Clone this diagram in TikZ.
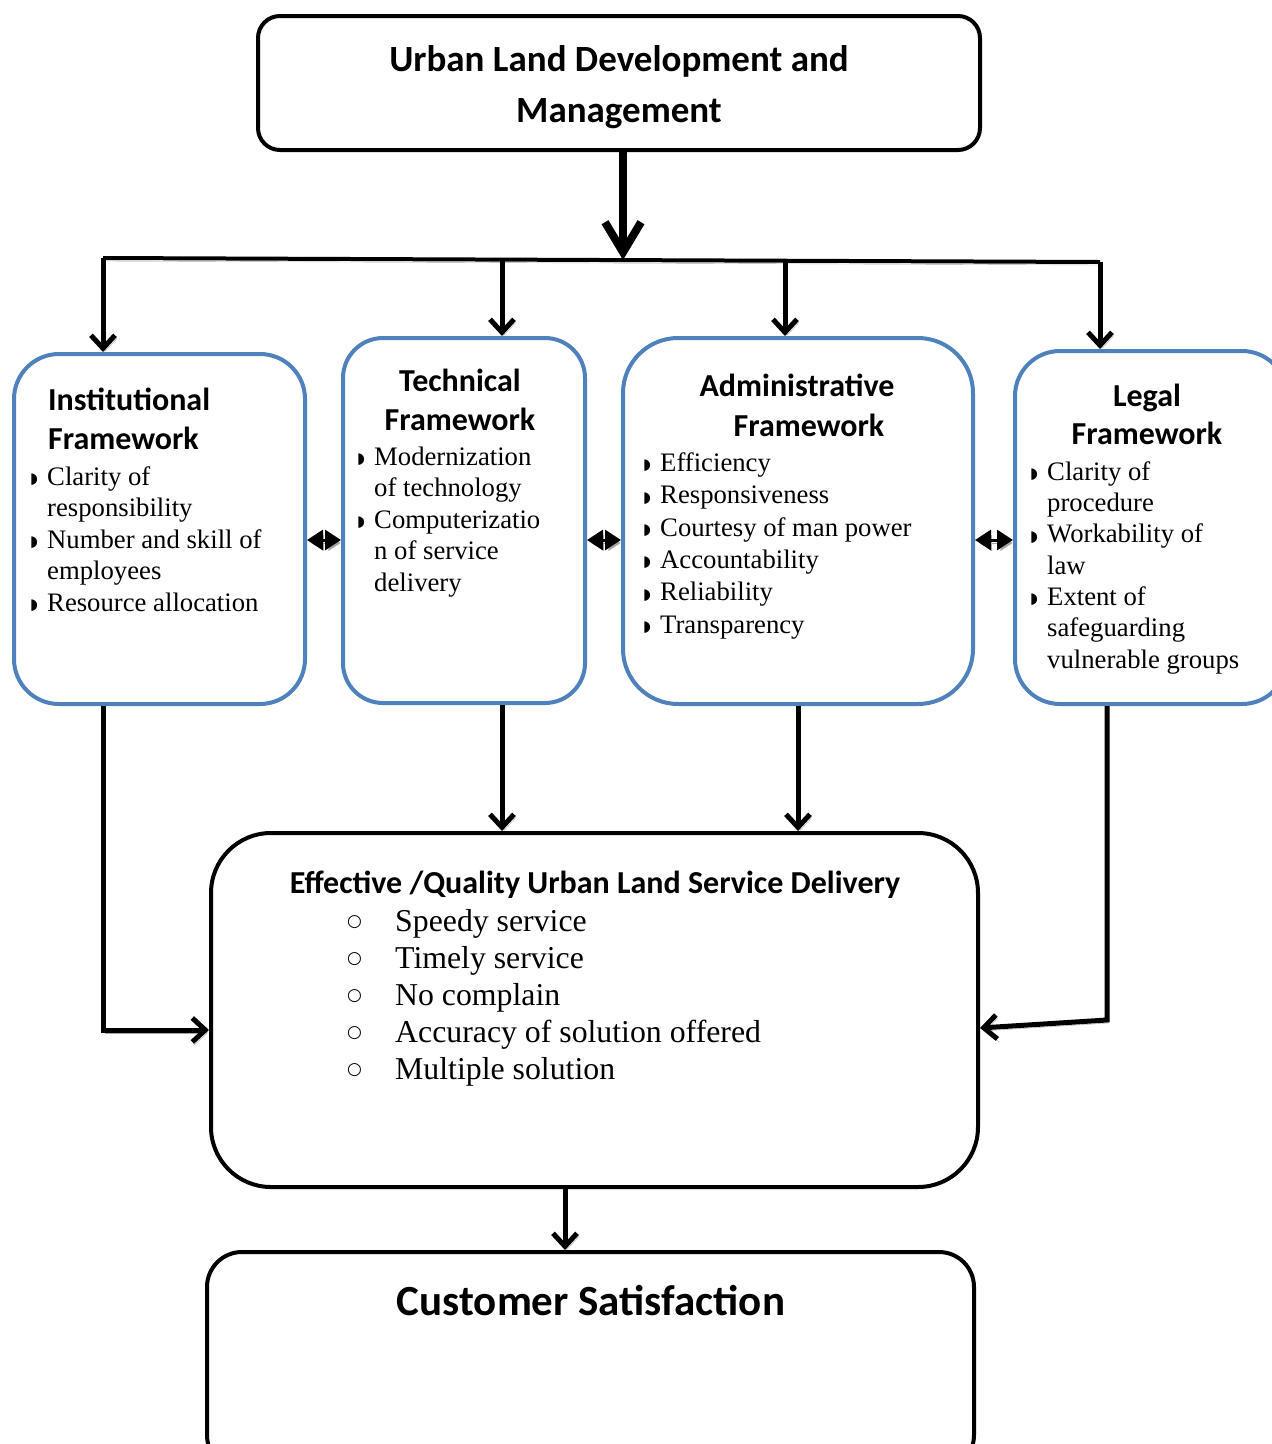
\documentclass[tikz,border=0pt]{standalone}
\usepackage{fontspec}
\setmainfont{Liberation Serif}
\newfontfamily\hdfont{Carlito}
\newfontfamily\symfont{DejaVu Sans}
\usetikzlibrary{arrows.meta}
\newcommand\bl{\makebox[17pt][l]{\raisebox{1.5pt}{\fontsize{15}{15}\symfont ◗}}}
\newcommand\ind{\hspace*{17pt}}
\newcommand\tp{\rule{0pt}{1em}}
\newcommand\ci{\makebox[48pt][l]{\raisebox{5pt}{\fontsize{17}{17}\symfont ○}}}
\definecolor{fblue}{HTML}{4F81BD}
\begin{document}
\begin{tikzpicture}[x=1pt,y=-1pt,
  blackbox/.style={draw=black, line width=4pt, rectangle, fill=white},
  bluebox/.style={draw=fblue, line width=4pt, rectangle, fill=white},
  shd/.style={preaction={draw=black!35, transform canvas={xshift=2pt,yshift=-3pt}}},
  conn/.style={line width=5pt, -{Straight Barb[length=13pt,width=24pt]}, shd},
  dbl/.style={line width=3pt, {Triangle[length=16pt,width=20pt]}-{Triangle[length=16pt,width=20pt]}, shd},
  hd/.style={font=\hdfont\bfseries\fontsize{32}{39}\selectfont, inner sep=0pt},
  body/.style={font=\fontsize{26.7}{31.5}\selectfont, inner sep=0pt, align=left, anchor=north west},
]
\path[use as bounding box] (0,0) rectangle (1272,1444);
\clip (0,0) rectangle (1272,1444);

% boxes
\node[blackbox, rounded corners=22pt, minimum width=722pt, minimum height=134pt] (top) at (619,83) {};
\node[bluebox, rounded corners=45pt, minimum width=291pt, minimum height=350pt] (inst) at (159.5,529) {};
\node[bluebox, rounded corners=40pt, minimum width=242pt, minimum height=365pt] (tech) at (464,520.5) {};
\node[bluebox, rounded corners=55pt, minimum width=350pt, minimum height=366pt] (adm) at (798,521) {};
\node[bluebox, rounded corners=45pt, minimum width=272pt, minimum height=353pt] (leg) at (1151,527.5) {};
\node[blackbox, rounded corners=60pt, minimum width=767pt, minimum height=354pt] (eff) at (594.5,1010) {};
\node[blackbox, rounded corners=35pt, minimum width=767pt, minimum height=218pt] (cust) at (590.5,1361) {};

% texts
\node[hd, font=\hdfont\bfseries\fontsize{37}{51}\selectfont, align=center, anchor=north] (toptxt) at (619,71-37) {\tp Urban Land Development and\\Management};
\node[hd, align=left, anchor=north west] (insth) at (48,410-32) {\tp Institutional\\Framework};
\node[body] (instl) at (30,485-26.7) {\tp\bl Clarity of\\ \ind responsibility\\ \bl Number and skill of\\ \ind employees\\ \bl Resource allocation};
\node[hd, align=center, anchor=north] (techh) at (460,391-32) {\tp Technical\\Framework};
\node[body] (techl) at (357,465-26.7) {\tp\bl Modernization\\ \ind of technology\\ \bl Computerizatio\\ \ind n of service\\ \ind delivery};
\node[hd, font=\hdfont\bfseries\fontsize{32}{40}\selectfont, align=center, anchor=north] (admh) at (797,396-32) {\tp Administrative\\\hspace*{24pt}Framework};
\node[body, font=\fontsize{26.7}{32.4}\selectfont] (adml) at (643,471-26.7) {\tp\bl Efficiency\\ \bl Responsiveness\\ \bl Courtesy of man power\\ \bl Accountability\\ \bl Reliability\\ \bl Transparency};
\node[hd, font=\hdfont\bfseries\fontsize{32}{38}\selectfont, align=center, anchor=north] (legh) at (1147,406-32) {\tp Legal\\Framework};
\node[body, font=\fontsize{26.7}{31.3}\selectfont] (legl) at (1030,480-26.7) {\tp\bl Clarity of\\ \ind procedure\\ \bl Workability of\\ \ind law\\ \bl Extent of\\ \ind safeguarding\\ \ind vulnerable groups};
\node[hd, anchor=north] (effh) at (595,893-32) {\tp Effective /Quality Urban Land Service Delivery};
\node[body, font=\fontsize{31.8}{37}\selectfont] (effl) at (347,931.5-31.8) {\tp\ci Speedy service\\ \ci Timely service\\ \ci No complain\\ \ci Accuracy of solution offered\\ \ci Multiple solution};
\node[hd, font=\hdfont\bfseries\fontsize{43}{50}\selectfont, anchor=north] (custh) at (591,1315-43) {\tp Customer Satisfaction};

% coordinates
\coordinate (b1) at (103,258);
\coordinate (b2) at (502,260);
\coordinate (bm) at (623,260);
\coordinate (b3) at (785,261);
\coordinate (b4) at (1100,262);
\coordinate (dy) at (0,540);
\coordinate (lj) at (0,1030);
\coordinate (rj) at (1107,1020);
\coordinate (re) at (0,1028);
\coordinate (c2) at (502,0);
\coordinate (c3) at (798,0);
\coordinate (c4) at (565,0);

% connectors
\draw[line width=4pt, shd] (b1) -- (b4);
\draw[line width=8pt, -{Straight Barb[length=30pt,width=36pt]}, shd] (top.south -| bm) -- (bm);
\draw[conn] (b1) -- (b1 |- inst.north);
\draw[conn] (b2) -- (b2 |- tech.north);
\draw[conn] (b3) -- (b3 |- adm.north);
\draw[conn] (b4) -- (b4 |- leg.north);
\draw[dbl] (inst.east |- dy) -- (tech.west |- dy);
\draw[dbl] (tech.east |- dy) -- (adm.west |- dy);
\draw[dbl] (adm.east |- dy) -- (leg.west |- dy);
\draw[conn] (inst.south -| b1) |- (eff.west |- lj);
\draw[conn] (leg.south -| rj) -- (rj) -- (eff.east |- re);
\draw[conn] (tech.south -| c2) -- (eff.north -| c2);
\draw[conn] (adm.south -| c3) -- (eff.north -| c3);
\draw[conn] (eff.south -| c4) -- (cust.north -| c4);
\end{tikzpicture}
\end{document}
